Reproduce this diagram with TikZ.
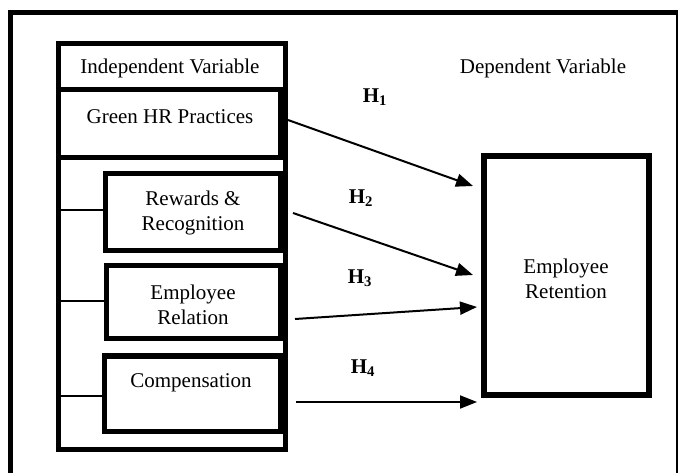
\documentclass[tikz,border=0pt]{standalone}
\usepackage{fontspec}
\setmainfont{Liberation Serif}
\usetikzlibrary{arrows.meta}
\tikzset{
  thickbox/.style={draw, line width=5pt, rectangle},
  txt/.style={inner sep=0pt, align=center, font=\fontsize{21}{25}\selectfont},
  hlab/.style={inner sep=0pt, font=\fontsize{21}{25}\selectfont\bfseries},
  conn/.style={line width=2pt},
  harrow/.style={line width=2pt, -{Triangle[length=17pt,width=13pt]}}
}
\begin{document}
\begin{tikzpicture}[x=1pt,y=-1pt]
\useasboundingbox (0,0) rectangle (678,473);
% outer frame
\draw[line width=5pt] (10,475) -- (10,13) -- (678,13);
\draw[line width=1.5pt] (677,13) -- (677,475);
% independent block
\draw[thickbox] (58.5,43.5) rectangle (285.5,449.5);
\draw[thickbox] (58.5,89.5) rectangle (280.5,158);
\draw[thickbox] (105.5,174) rectangle (280.5,251);
\draw[thickbox] (106.5,266) rectangle (280.5,339);
\draw[thickbox] (104.5,356) rectangle (280.5,431);
\node[txt] (iv) at (170,68) {Independent Variable};
\node[txt] (ghr) at (170,117) {Green HR Practices};
\node[txt] (rr) at (193,213) {Rewards \&\\Recognition};
\node[txt] (er) at (193,305) {Employee\\Relation};
\node[txt] (comp) at (191,383) {Compensation};
% side connectors
\coordinate (s1a) at (61,210); \coordinate (s1b) at (103,210);
\coordinate (s2a) at (61,301); \coordinate (s2b) at (104,301);
\coordinate (s3a) at (61,396); \coordinate (s3b) at (102,396);
\draw[conn] (s1a) -- (s1b);
\draw[conn] (s2a) -- (s2b);
\draw[conn] (s3a) -- (s3b);
% dependent
\node[txt] (dv) at (543,68) {Dependent Variable};
\draw[line width=6pt] (483.5,156) rectangle (649,395);
\node[txt] (ret) at (566,279) {Employee\\Retention};
% arrows
\coordinate (a1) at (288,120); \coordinate (b1) at (473,186);
\coordinate (a2) at (293,213); \coordinate (b2) at (473,275);
\coordinate (a3) at (295,319); \coordinate (b3) at (477,307);
\coordinate (a4) at (296,402); \coordinate (b4) at (477,402);
\draw[harrow] (a1) -- (b1);
\draw[harrow] (a2) -- (b2);
\draw[harrow] (a3) -- (b3);
\draw[harrow] (a4) -- (b4);
\node[hlab] (h1) at (375,97) {H\textsubscript{1}};
\node[hlab] (h2) at (361,198) {H\textsubscript{2}};
\node[hlab] (h3) at (360,278) {H\textsubscript{3}};
\node[hlab] (h4) at (363,368) {H\textsubscript{4}};
\end{tikzpicture}
\end{document}
